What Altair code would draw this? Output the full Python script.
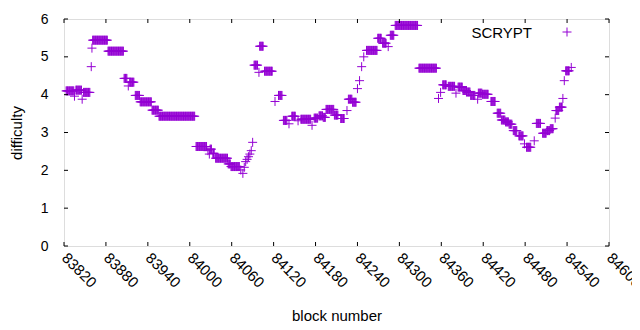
import altair as alt
import pandas as pd

# runs of consecutive SCRYPT blocks with the same difficulty (start block, end block, difficulty)
run_start = [83823, 83835, 83837, 83846, 83848, 83859, 83860, 83861, 83883, 83906,
             83912, 83914, 83922, 83929, 83946, 83956, 84009, 84026, 84028, 84029,
             84033, 84037, 84055, 84059, 84073, 84076, 84078, 84080, 84082, 84084,
             84086, 84088, 84090, 84092, 84099, 84100, 84107, 84122, 84127, 84134,
             84142, 84146, 84155, 84159, 84175, 84178, 84185, 84191, 84195, 84207,
             84216, 84225, 84227, 84233, 84240, 84243, 84246, 84249, 84253, 84269,
             84276, 84284, 84287, 84294, 84328, 84356, 84359, 84362, 84370, 84381,
             84384, 84391, 84396, 84402, 84412, 84413, 84419, 84431, 84440, 84446,
             84452, 84457, 84463, 84471, 84479, 84482, 84493, 84496, 84505, 84511,
             84516, 84523, 84524, 84529, 84534, 84536, 84538, 84546]
run_end = [83834, 83835, 83845, 83846, 83857, 83859, 83860, 83882, 83905, 83910,
           83912, 83920, 83928, 83945, 83955, 84007, 84024, 84026, 84028, 84031,
           84035, 84054, 84058, 84071, 84073, 84076, 84078, 84080, 84082, 84084,
           84086, 84088, 84090, 84097, 84099, 84105, 84118, 84122, 84132, 84139,
           84142, 84151, 84155, 84173, 84175, 84183, 84190, 84194, 84206, 84212,
           84221, 84225, 84232, 84238, 84240, 84243, 84246, 84249, 84268, 84274,
           84281, 84284, 84292, 84326, 84353, 84356, 84359, 84367, 84379, 84381,
           84390, 84396, 84401, 84408, 84412, 84418, 84427, 84437, 84445, 84451,
           84456, 84461, 84468, 84477, 84479, 84488, 84493, 84502, 84510, 84515,
           84520, 84523, 84528, 84533, 84534, 84536, 84543, 84546]
run_diff = [4.10, 3.96, 4.12, 3.88, 4.06, 4.74, 5.23, 5.44, 5.15, 4.43,
            4.23, 4.33, 3.98, 3.81, 3.59, 3.43, 2.63, 2.52, 2.43, 2.56,
            2.45, 2.32, 2.17, 2.10, 2.01, 1.92, 2.08, 2.23, 2.29, 2.36,
            2.43, 2.52, 2.74, 4.78, 4.59, 5.28, 4.62, 3.82, 3.98, 3.32,
            3.23, 3.43, 3.31, 3.35, 3.19, 3.38, 3.44, 3.40, 3.61, 3.46,
            3.37, 3.58, 3.88, 3.80, 4.16, 4.37, 4.74, 5.00, 5.17, 5.49,
            5.36, 5.27, 5.57, 5.83, 4.70, 3.90, 4.06, 4.26, 4.22, 4.04,
            4.20, 4.11, 4.07, 3.98, 3.88, 4.04, 4.01, 3.82, 3.51, 3.33,
            3.28, 3.22, 3.05, 2.91, 2.70, 2.61, 2.78, 3.24, 2.98, 3.05,
            3.10, 3.38, 3.58, 3.67, 3.90, 4.37, 4.63, 4.72]

x_ticks = [83820, 83880, 83940, 84000, 84060, 84120, 84180, 84240, 84300,
           84360, 84420, 84480, 84540, 84600]
y_ticks = [0, 1, 2, 3, 4, 5, 6]

rows = []
for s, e, d in zip(run_start, run_end, run_diff):
    for b in range(s, e + 1):
        rows.append({"block": b, "difficulty": d})
df = pd.DataFrame(rows)

W, H = 545, 227
FONT = "Liberation Sans"
PURPLE = "#9400D3"
PLUS = "M-1,0L1,0M0,-1L0,1"

xscale = alt.Scale(domain=[83820, 84600], nice=False, zero=False)
yscale = alt.Scale(domain=[0, 6], nice=False)

xaxis = alt.Axis(values=x_ticks, labelAngle=45, labelAlign="left",
                 labelBaseline="middle", labelPadding=9, ticks=False,
                 domain=False, grid=False, format="d",
                 labelFontSize=15, labelFont=FONT, labelColor="black",
                 labelOverlap=False, labelFlush=False,
                 title="block number", titleFont=FONT, titleFontSize=15,
                 titleFontWeight="normal", titleColor="black",
                 titleX=W / 2, titleY=74, titleAlign="center",
                 titleBaseline="alphabetic")
yaxis = alt.Axis(values=y_ticks, ticks=False, domain=False, grid=False,
                 labelPadding=16, labelFontSize=14, labelFont=FONT,
                 labelColor="black", labelOverlap=False, labelFlush=False,
                 title="difficulty", titleFont=FONT, titleFontSize=15,
                 titleFontWeight="normal", titleColor="black",
                 titleX=-43, titleY=H / 2, titleAlign="center",
                 titleBaseline="alphabetic", titleAngle=-90)

points = alt.Chart(df).mark_point(
    shape=PLUS, size=81, filled=False, color=PURPLE, strokeWidth=1, opacity=1
).encode(
    x=alt.X("block:Q", scale=xscale, axis=xaxis),
    y=alt.Y("difficulty:Q", scale=yscale, axis=yaxis),
)

xt = pd.DataFrame({"t": x_ticks})
yt = pd.DataFrame({"t": y_ticks})
TL = 4
tick_b = alt.Chart(xt).mark_rule(color="black", strokeWidth=1).encode(
    x=alt.X("t:Q", scale=xscale, axis=xaxis), y=alt.value(H), y2=alt.value(H - TL))
tick_t = alt.Chart(xt).mark_rule(color="black", strokeWidth=1).encode(
    x=alt.X("t:Q", scale=xscale, axis=xaxis), y=alt.value(0), y2=alt.value(TL))
tick_l = alt.Chart(yt).mark_rule(color="black", strokeWidth=1).encode(
    y=alt.Y("t:Q", scale=yscale, axis=yaxis), x=alt.value(0), x2=alt.value(TL))
tick_r = alt.Chart(yt).mark_rule(color="black", strokeWidth=1).encode(
    y=alt.Y("t:Q", scale=yscale, axis=yaxis), x=alt.value(W), x2=alt.value(W - TL))

legend_df = pd.DataFrame({"label": ["SCRYPT"]})
leg_text = alt.Chart(legend_df).mark_text(
    align="right", baseline="alphabetic", font=FONT, fontSize=15, color="black"
).encode(text="label:N", x=alt.value(468), y=alt.value(19))
leg_pt = alt.Chart(legend_df).mark_point(
    shape=PLUS, size=81, filled=False, color=PURPLE, strokeWidth=1, opacity=1
).encode(x=alt.value(503), y=alt.value(13))

chart = alt.layer(points, tick_b, tick_t, tick_l, tick_r, leg_text, leg_pt).properties(
    width=W, height=H,
    autosize=alt.AutoSizeParams(type="none"),
    padding={"left": 56, "top": 11, "right": 23, "bottom": 76},
).configure_view(stroke="black", strokeWidth=1).configure(background="white")

chart.save("out.html", embed_options={"renderer": "svg", "actions": False})
